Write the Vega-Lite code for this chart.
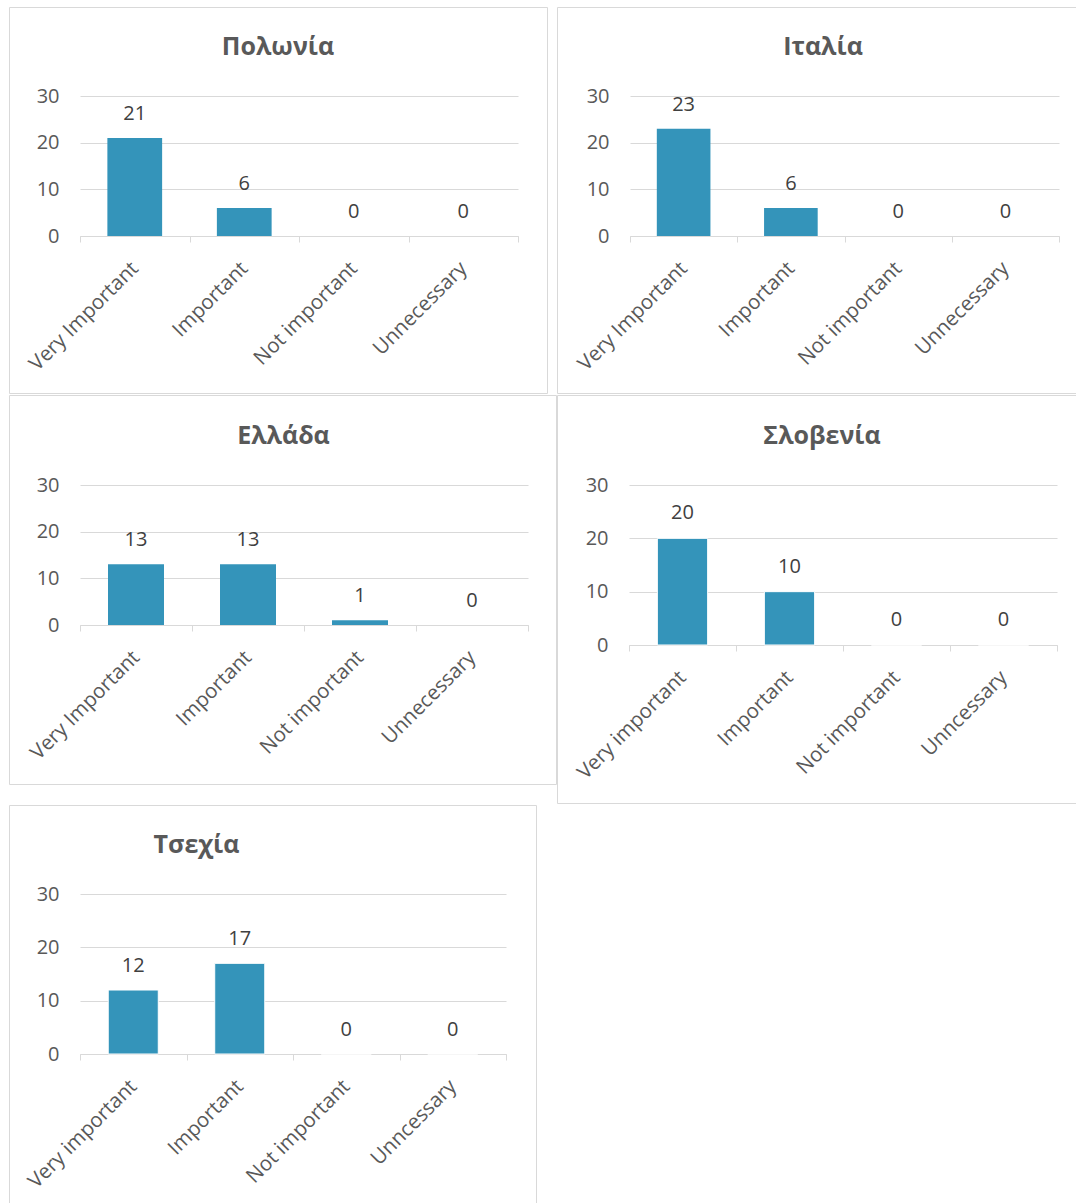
{
  "$schema": "https://vega.github.io/schema/vega-lite/v6.json",
  "padding": {"left": 1, "top": 6, "right": 0, "bottom": 0},
  "background": "white",
  "datasets": {
    "survey": [
      {"country": "Πολωνία", "category": "Very Important", "value": 21},
      {"country": "Πολωνία", "category": "Important", "value": 6},
      {"country": "Πολωνία", "category": "Not important", "value": 0},
      {"country": "Πολωνία", "category": "Unnecessary", "value": 0},
      {"country": "Ιταλία", "category": "Very Important", "value": 23},
      {"country": "Ιταλία", "category": "Important", "value": 6},
      {"country": "Ιταλία", "category": "Not important", "value": 0},
      {"country": "Ιταλία", "category": "Unnecessary", "value": 0},
      {"country": "Ελλάδα", "category": "Very Important", "value": 13},
      {"country": "Ελλάδα", "category": "Important", "value": 13},
      {"country": "Ελλάδα", "category": "Not important", "value": 1},
      {"country": "Ελλάδα", "category": "Unnecessary", "value": 0},
      {"country": "Σλοβενία", "category": "Very important", "value": 20},
      {"country": "Σλοβενία", "category": "Important", "value": 10},
      {"country": "Σλοβενία", "category": "Not important", "value": 0},
      {"country": "Σλοβενία", "category": "Unncessary", "value": 0},
      {"country": "Τσεχία", "category": "Very important", "value": 12},
      {"country": "Τσεχία", "category": "Important", "value": 17},
      {"country": "Τσεχία", "category": "Not important", "value": 0},
      {"country": "Τσεχία", "category": "Unncessary", "value": 0}
    ]
  },
  "data": {"name": "survey"},
  "spacing": 0,
  "vconcat": [
    {
      "bounds": "flush",
      "spacing": 10,
      "hconcat": [
        {
          "width": 538, "height": 386,
          "title": {"text": "Πολωνία", "offset": -53, "dx": 0},
          "transform": [{"filter": "datum.country === 'Πολωνία'"}],
          "encoding": {
            "x": {"field": "category", "type": "nominal", "sort": null,
                  "scale": {"range": [71, 509], "paddingInner": 0, "paddingOuter": 0},
                  "axis": {"offset": -157, "title": null, "tickBand": "extent"}},
            "y": {"field": "value", "type": "quantitative",
                  "scale": {"domain": [0, 30], "range": [229, 89], "nice": false},
                  "axis": {"offset": -71, "title": null, "values": [0, 10, 20, 30]}}
          },
          "layer": [
            {"mark": {"type": "bar", "width": {"band": 0.5}, "color": "#3494BA"}},
            {"mark": {"type": "text", "dy": -24, "fontSize": 20, "font": "Open Sans", "color": "#404040", "baseline": "middle"},
             "encoding": {"text": {"field": "value", "type": "quantitative"}}}
          ]
        },
        {
          "width": 520, "height": 386,
          "title": {"text": "Ιταλία", "offset": -53, "dx": 6},
          "transform": [{"filter": "datum.country === 'Ιταλία'"}],
          "encoding": {
            "x": {"field": "category", "type": "nominal", "sort": null,
                  "scale": {"range": [73, 502], "paddingInner": 0, "paddingOuter": 0},
                  "axis": {"offset": -157, "title": null, "tickBand": "extent"}},
            "y": {"field": "value", "type": "quantitative",
                  "scale": {"domain": [0, 30], "range": [229, 89], "nice": false},
                  "axis": {"offset": -73, "title": null, "values": [0, 10, 20, 30]}}
          },
          "layer": [
            {"mark": {"type": "bar", "width": {"band": 0.5}, "color": "#3494BA"}},
            {"mark": {"type": "text", "dy": -24, "fontSize": 20, "font": "Open Sans", "color": "#404040", "baseline": "middle"},
             "encoding": {"text": {"field": "value", "type": "quantitative"}}}
          ]
        }
      ]
    },
    {
      "bounds": "flush",
      "spacing": 1,
      "hconcat": [
        {
          "width": 547, "height": 389,
          "title": {"text": "Ελλάδα", "offset": -54, "dx": 1},
          "transform": [{"filter": "datum.country === 'Ελλάδα'"}],
          "encoding": {
            "x": {"field": "category", "type": "nominal", "sort": null,
                  "scale": {"range": [71, 519], "paddingInner": 0, "paddingOuter": 0},
                  "axis": {"offset": -159, "title": null, "tickBand": "extent"}},
            "y": {"field": "value", "type": "quantitative",
                  "scale": {"domain": [0, 30], "range": [230, 90], "nice": false},
                  "axis": {"offset": -71, "title": null, "values": [0, 10, 20, 30]}}
          },
          "layer": [
            {"mark": {"type": "bar", "width": {"band": 0.5}, "color": "#3494BA"}},
            {"mark": {"type": "text", "dy": -24, "fontSize": 20, "font": "Open Sans", "color": "#404040", "baseline": "middle"},
             "encoding": {"text": {"field": "value", "type": "quantitative"}}}
          ]
        },
        {
          "width": 520, "height": 408,
          "title": {"text": "Σλοβενία", "offset": -54, "dx": 5},
          "transform": [{"filter": "datum.country === 'Σλοβενία'"}],
          "encoding": {
            "x": {"field": "category", "type": "nominal", "sort": null,
                  "scale": {"range": [72, 500], "paddingInner": 0, "paddingOuter": 0},
                  "axis": {"offset": -158, "title": null, "tickBand": "extent"}},
            "y": {"field": "value", "type": "quantitative",
                  "scale": {"domain": [0, 30], "range": [250, 90], "nice": false},
                  "axis": {"offset": -72, "title": null, "values": [0, 10, 20, 30]}}
          },
          "layer": [
            {"mark": {"type": "bar", "width": {"band": 0.47}, "color": "#3494BA", "stroke": "white", "strokeWidth": 1}},
            {"mark": {"type": "text", "dy": -25, "fontSize": 20, "font": "Open Sans", "color": "#404040", "baseline": "middle"},
             "encoding": {"text": {"field": "value", "type": "quantitative"}}}
          ]
        }
      ]
    },
    {
      "width": 527, "height": 400,
      "title": {"text": "Τσεχία", "offset": -53, "dx": -76},
      "transform": [{"filter": "datum.country === 'Τσεχία'"}],
      "encoding": {
        "x": {"field": "category", "type": "nominal", "sort": null,
              "scale": {"range": [71, 497], "paddingInner": 0, "paddingOuter": 0},
              "axis": {"offset": -151, "title": null, "tickBand": "extent"}},
        "y": {"field": "value", "type": "quantitative",
              "scale": {"domain": [0, 30], "range": [249, 89], "nice": false},
              "axis": {"offset": -71, "title": null, "values": [0, 10, 20, 30]}}
      },
      "layer": [
        {"mark": {"type": "bar", "width": {"band": 0.47}, "color": "#3494BA", "stroke": "white", "strokeWidth": 1}},
        {"mark": {"type": "text", "dy": -24, "fontSize": 20, "font": "Open Sans", "color": "#404040", "baseline": "middle"},
         "encoding": {"text": {"field": "value", "type": "quantitative"}}}
      ]
    }
  ],
  "config": {
    "view": {"stroke": "#d9d9d9", "strokeWidth": 1},
    "title": {"fontSize": 25, "fontWeight": "bold", "font": "Open Sans", "color": "#595959", "anchor": "middle", "frame": "group", "baseline": "middle"},
    "axisX": {
      "labelAngle": -45, "labelAlign": "right", "labelBaseline": "middle",
      "labelFontSize": 20.5, "labelFont": "Open Sans", "labelColor": "#595959",
      "labelPadding": 23, "labelOffset": 0, "maxExtent": 140,
      "domainColor": "#d9d9d9", "ticks": true, "tickColor": "#d9d9d9", "tickSize": 6,
      "grid": false
    },
    "axisY": {
      "labelFontSize": 20, "labelFont": "Open Sans", "labelColor": "#595959",
      "labelPadding": 21, "ticks": false, "tickSize": 0, "domain": false,
      "grid": true, "gridColor": "#d9d9d9", "gridWidth": 1
    }
  }
}
